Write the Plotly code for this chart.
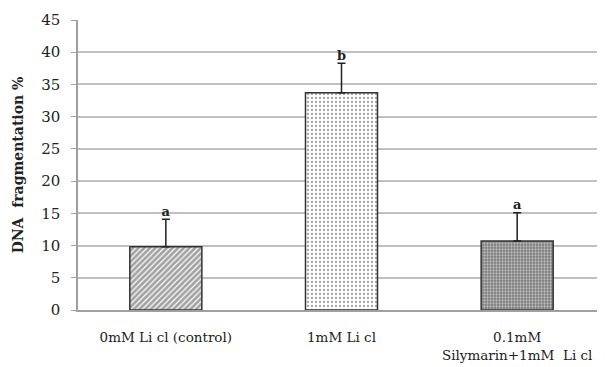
import plotly.graph_objects as go

categories = ["0mM Li cl (control)", "1mM Li cl", "0.1mM<br>Silymarin+1mM  Li cl"]
values = [9.8, 33.7, 10.7]
errors = [4.3, 4.6, 4.4]
letters = ["a", "b", "a"]
y_ticks = [0, 5, 10, 15, 20, 25, 30, 35, 40, 45]

fig = go.Figure()
fig.add_trace(go.Bar(
    x=categories, y=values,
    width=0.41,
    marker=dict(
        color=["white", "white", "#7a7a7a"],
        line=dict(color="#333333", width=1.5),
        pattern=dict(
            shape=["/", ".", "."],
            fgcolor=["#000000", "#666666", "#4a4a4a"],
            bgcolor=["white", "white", "#858585"],
            size=[4, 4, 3],
            solidity=[0.7, 0.25, 0.45],
            fillmode="overlay",
        ),
    ),
    error_y=dict(type="data", array=errors, arrayminus=[0, 0, 0], symmetric=False,
                 color="#222222", thickness=1.5, width=4),
    showlegend=False,
))

fig.add_trace(go.Scatter(
    x=categories, y=[v + e for v, e in zip(values, errors)],
    mode="text", text=["<b>" + l + "</b>" for l in letters], textposition="top center",
    textfont=dict(family="DejaVu Serif", size=13, color="#222222"),
    showlegend=False, hoverinfo="skip", cliponaxis=False,
))

fig.update_layout(
    width=597, height=359,
    margin=dict(l=70, r=0, t=12, b=57),
    plot_bgcolor="white", paper_bgcolor="white",
    font=dict(family="DejaVu Serif", size=13, color="#222222"),
)
fig.update_yaxes(
    range=[0, 45], tickvals=y_ticks, showgrid=True, gridcolor="#c0c0c0", gridwidth=1.5,
    showline=True, linecolor="#a0a0a0", linewidth=1.5, ticks="outside", ticklen=5,
    tickcolor="#a0a0a0", zeroline=False, ticklabelstandoff=8,
    title=dict(text="<b>DNA  fragmentation %</b>", font=dict(size=14), standoff=14),
    tickfont=dict(size=15),
)
fig.update_xaxes(
    showline=True, linecolor="#a0a0a0", linewidth=1.5, ticks="", tickfont=dict(size=13.5),
    ticklabelstandoff=14,
)

fig.write_html("out.html")
